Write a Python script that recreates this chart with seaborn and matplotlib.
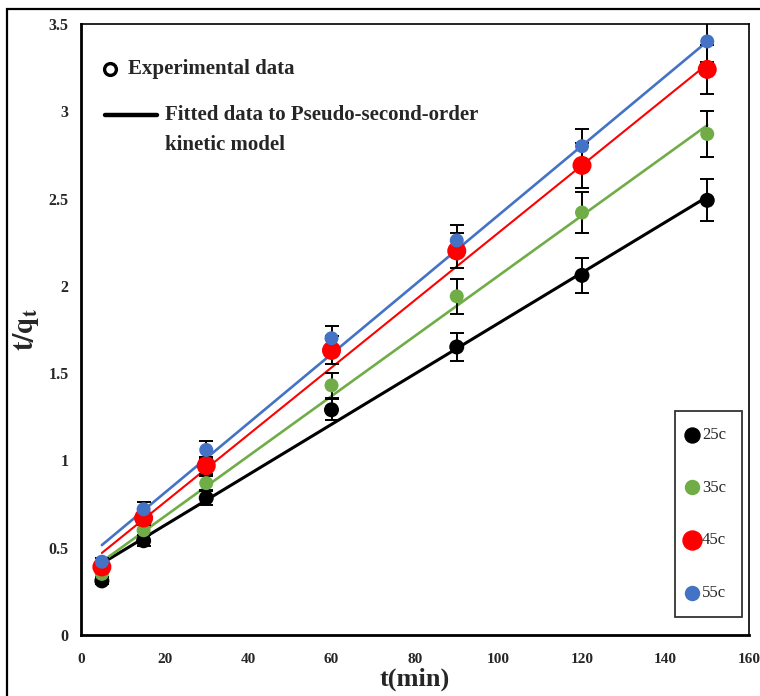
import matplotlib
matplotlib.use("Agg")
import matplotlib.pyplot as plt
from matplotlib.patches import Rectangle
import pandas as pd
import seaborn as sns

# Sampling times (min) and measured t/qt for each adsorption temperature
time_min = [5, 15, 30, 60, 90, 120, 150]
temperatures = ["25c", "35c", "45c", "55c"]
tq_25 = [0.31, 0.54, 0.785, 1.29, 1.65, 2.06, 2.49]
tq_35 = [0.35, 0.60, 0.87, 1.43, 1.94, 2.42, 2.87]
tq_45 = [0.39, 0.67, 0.97, 1.63, 2.20, 2.69, 3.24]
tq_55 = [0.42, 0.72, 1.06, 1.70, 2.26, 2.80, 3.40]

# Error bar half-widths
err_25 = [0.02, 0.03, 0.04, 0.06, 0.08, 0.10, 0.12]
err_35 = [0.02, 0.03, 0.04, 0.07, 0.10, 0.12, 0.13]
err_45 = [0.02, 0.03, 0.05, 0.08, 0.10, 0.13, 0.14]
err_55 = [0.02, 0.04, 0.05, 0.07, 0.09, 0.10, 0.12]

# Pseudo-second-order fitted lines (values at first and last time)
fit_time = [5, 150]
fit_25 = [0.41, 2.51]
fit_35 = [0.42, 2.92]
fit_45 = [0.47, 3.27]
fit_55 = [0.515, 3.40]

x_ticks = [0, 20, 40, 60, 80, 100, 120, 140, 160]
y_ticks = [0, 0.5, 1, 1.5, 2, 2.5, 3, 3.5]
y_tick_labels = ["0", "0.5", "1", "1.5", "2", "2.5", "3", "3.5"]

colors = ["#000000", "#70AD47", "#FF0000", "#4472C4"]
marker_px = [15, 14, 19, 14]
line_widths = [2.2, 1.9, 1.5, 1.9]

measured = [tq_25, tq_35, tq_45, tq_55]
errors = [err_25, err_35, err_45, err_55]
fits = [fit_25, fit_35, fit_45, fit_55]

points = pd.concat(
    [pd.DataFrame({"t": time_min, "tq": v, "temp": T}) for T, v in zip(temperatures, measured)],
    ignore_index=True,
)
fitted = pd.concat(
    [pd.DataFrame({"t": fit_time, "tq": v, "temp": T}) for T, v in zip(temperatures, fits)],
    ignore_index=True,
)

sns.set_style("white")
plt.rcParams["font.family"] = ["Liberation Serif", "DejaVu Serif"]
plt.rcParams["mathtext.fontset"] = "stix"

dpi = 100
fig = plt.figure(figsize=(7.6, 6.96), dpi=dpi)
ax = fig.add_axes([81 / 760, 1 - 635 / 696, 668 / 760, 611 / 696])

handles = []
for i, T in enumerate(temperatures):
    sub_fit = fitted[fitted["temp"] == T]
    sns.lineplot(data=sub_fit, x="t", y="tq", color=colors[i], lw=line_widths[i],
                 ax=ax, zorder=2, legend=False)
    sub = points[points["temp"] == T]
    ax.errorbar(sub["t"], sub["tq"], yerr=errors[i], fmt="none", ecolor="black",
                elinewidth=1.4, capsize=5, capthick=1.4, zorder=2.5)
    s_pt = (marker_px[i] * 72 / dpi) ** 2
    h = ax.scatter([], [], s=s_pt, color=colors[i], label=T)
    sns.scatterplot(data=sub, x="t", y="tq", color=colors[i], s=s_pt,
                    edgecolor="none", ax=ax, zorder=3, legend=False)
    handles.append(h)

ax.set_xlim(0, 160)
ax.set_ylim(0, 3.5)
ax.set_xticks(x_ticks)
ax.set_xticklabels([str(v) for v in x_ticks], fontweight="bold", fontsize=11)
ax.set_yticks(y_ticks)
ax.set_yticklabels(y_tick_labels, fontweight="bold", fontsize=11.5)
ax.tick_params(axis="both", direction="in", length=5, width=1.2, color="black",
               pad=9)
ax.tick_params(axis="x", pad=13)

for side in ["left", "bottom"]:
    ax.spines[side].set_linewidth(2.0)
    ax.spines[side].set_color("black")
for side in ["top", "right"]:
    ax.spines[side].set_linewidth(1.2)
    ax.spines[side].set_color("black")

ax.set_xlabel("t(min)", fontsize=19, fontweight="bold", labelpad=1)
ax.set_ylabel(r"$\mathbf{t/q_t}$", fontsize=21, labelpad=5)

# Temperature legend
leg = ax.legend(handles=handles, loc="lower right",
                bbox_to_anchor=(0.9895, 0.0295), frameon=True, fancybox=False,
                prop={"family": "Liberation Serif", "size": 12},
                labelspacing=2.2, handlelength=0.05, handletextpad=0.6,
                borderpad=0.95, borderaxespad=0)
leg.get_frame().set_edgecolor("black")
leg.get_frame().set_linewidth(1.3)

# Key describing marker and line meaning
ax.plot([0.0434], [0.926], marker="o", ms=8.5, mfc="white", mec="black", mew=2.4,
        transform=ax.transAxes, clip_on=False, zorder=5)
ax.text(0.0704, 0.926, "Experimental data", transform=ax.transAxes,
        fontsize=15, fontweight="bold", va="center", ha="left")
ax.plot([0.036, 0.114], [0.851, 0.851], color="black", lw=3.2,
        transform=ax.transAxes, clip_on=False, zorder=5)
ax.text(0.1257, 0.851, "Fitted data to Pseudo-second-order", transform=ax.transAxes,
        fontsize=15, fontweight="bold", va="center", ha="left")
ax.text(0.1257, 0.802, "kinetic model", transform=ax.transAxes,
        fontsize=15, fontweight="bold", va="center", ha="left")

# Outer chart frame
fig.patches.append(Rectangle((7 / 760, -0.05), 1.2, 1 - 9 / 696 + 0.05,
                             transform=fig.transFigure, fill=False,
                             edgecolor="black", lw=1.6, zorder=0))

fig.savefig("out.png", dpi=dpi)
